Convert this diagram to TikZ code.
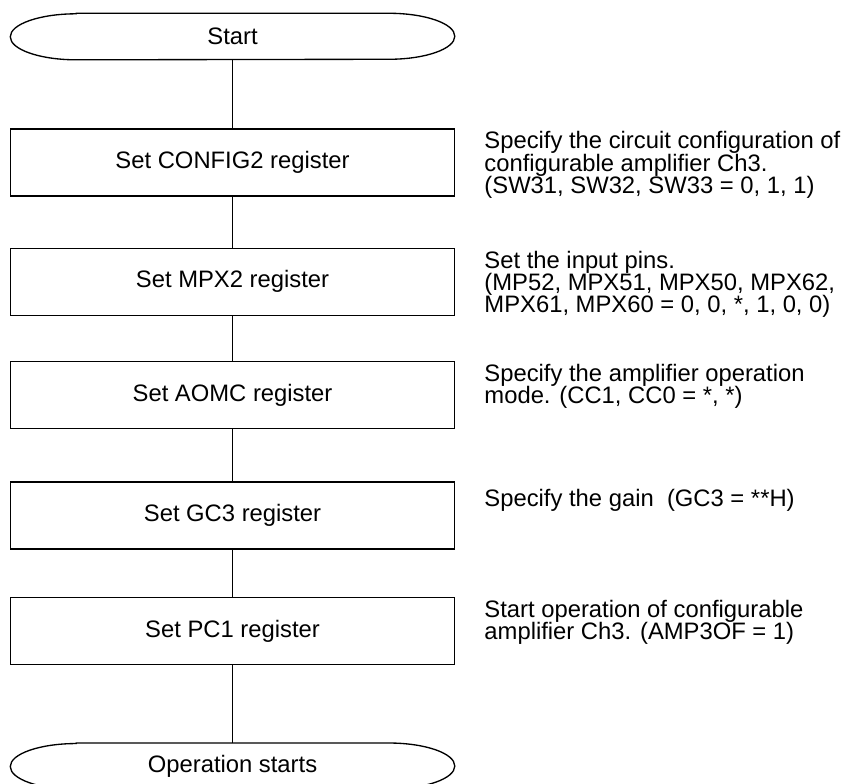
\documentclass[tikz,border=0pt]{standalone}
\usepackage{fontspec}
\setmainfont{Liberation Sans}
\usetikzlibrary{positioning,calc}

\begin{document}
\begin{tikzpicture}[
        node distance=38pt,
        every node/.style={font=\fontsize{17.85pt}{16.8pt}\selectfont},
        terminal/.style={rectangle, inner sep=0pt, minimum width=333pt, minimum height=34.5pt},
        process/.style={rectangle, draw, line width=1pt, inner sep=0pt, minimum width=333pt, minimum height=50.25pt},
        note/.style={anchor=north west, align=left, inner sep=0pt, xshift=21.75pt, yshift=-2.25pt},
        line/.style={line width=1pt}
    ]
        \useasboundingbox (0,0) rectangle (633.75pt,-587.25pt);
        \node[terminal] (start) at (174.4pt,-27.4pt) {Start};
        \node[process, below=51.4pt of start] (config) {Set CONFIG2 register};
        \node[process, below=38.25pt of config] (mpx) {Set MPX2 register};
        \node[process, below=33.75pt of mpx] (aomc) {Set AOMC register};
        \node[process, below=39pt of aomc] (gc) {Set GC3 register};
        \node[process, below=35.25pt of gc] (pc) {Set PC1 register};
        \node[terminal, below=58.5pt of pc] (stop) {Operation starts};
        % terminal outlines
        \foreach \t in {start,stop} {
            \draw[line] ($(\t.north west)+(49.5pt,0)$) -- ($(\t.north east)+(-49.5pt,0)$)
                arc[start angle=90, end angle=-90, x radius=49.5pt, y radius=17.25pt]
                -- ($(\t.south west)+(49.5pt,0)$)
                arc[start angle=270, end angle=90, x radius=49.5pt, y radius=17.25pt] -- cycle;
        }
        \node[note] (configtxt) at (config.north east) {Specify the circuit configuration of\\configurable amplifier Ch3.\\(SW31, SW32, SW33 = 0, 1, 1)};
        \node[note] (mpxtxt) at (mpx.north east) {Set the input pins.\\(MP52, MPX51, MPX50, MPX62,\\MPX61, MPX60 = 0, 0, *, 1, 0, 0)};
        \node[note] (aomctxt) at (aomc.north east) {Specify the amplifier operation\\mode. (CC1, CC0 = *, *)};
        \node[note, yshift=-3.75pt] (gctxt) at (gc.north east) {Specify the gain\ \ (GC3 = **H)};
        \node[note] (pctxt) at (pc.north east) {Start operation of configurable\\amplifier Ch3. (AMP3OF = 1)};
        \draw[line] (start) -- (config);
        \draw[line] (config) -- (mpx);
        \draw[line] (mpx) -- (aomc);
        \draw[line] (aomc) -- (gc);
        \draw[line] (gc) -- (pc);
        \draw[line] (pc) -- (stop);
    \end{tikzpicture}
\end{document}
